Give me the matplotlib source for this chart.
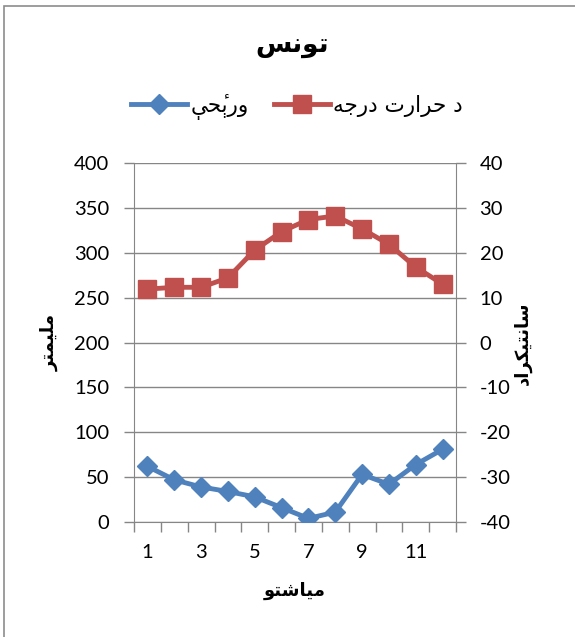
import matplotlib
matplotlib.use('Agg')
import matplotlib.pyplot as plt
from matplotlib import font_manager
from matplotlib.ft2font import FT2Font
from matplotlib.patches import Rectangle

# data
months = list(range(1, 13))
rain_mm = [62, 47, 39, 34, 28, 16, 4, 11, 53, 42, 64, 81]
temp_c = [11.9, 12.3, 12.3, 14.4, 20.6, 24.7, 27.4, 28.2, 25.3, 21.9, 16.8, 13.0]
month_label_pos = [1, 3, 5, 7, 9, 11]
month_labels = ['1', '3', '5', '7', '9', '11']

title_text = 'تونس'
rain_name = 'ورېځې'
temp_name = 'د حرارت درجه'
left_label = 'ملیمتر'
right_label = 'سانتیګراد'
x_label = 'میاشتو'

# matplotlib 3.10 has no arabic shaping, so pick the joined forms by hand
# (isolated, final, initial, medial); two entries = joins only to the right
FORMS = {
    '\u0627': (0xFE8D, 0xFE8E),
    '\u062A': (0xFE95, 0xFE96, 0xFE97, 0xFE98),
    '\u062C': (0xFE9D, 0xFE9E, 0xFE9F, 0xFEA0),
    '\u062D': (0xFEA1, 0xFEA2, 0xFEA3, 0xFEA4),
    '\u062F': (0xFEA9, 0xFEAA),
    '\u0631': (0xFEAD, 0xFEAE),
    '\u0633': (0xFEB1, 0xFEB2, 0xFEB3, 0xFEB4),
    '\u0634': (0xFEB5, 0xFEB6, 0xFEB7, 0xFEB8),
    '\u0644': (0xFEDD, 0xFEDE, 0xFEDF, 0xFEE0),
    '\u0645': (0xFEE1, 0xFEE2, 0xFEE3, 0xFEE4),
    '\u0646': (0xFEE5, 0xFEE6, 0xFEE7, 0xFEE8),
    '\u0647': (0xFEE9, 0xFEEA, 0xFEEB, 0xFEEC),
    '\u0648': (0xFEED, 0xFEEE),
    '\u06CC': (0xFBFC, 0xFBFD, 0xFBFE, 0xFBFF),
    '\u06D0': (0xFBE4, 0xFBE5, 0xFBE6, 0xFBE7),
    '\u0681': (0xFEA1, 0xFEA2, 0xFEA3, 0xFEA4),  # no own forms: hah + hamza
    '\u06AB': (0xFB8E, 0xFB8F, 0xFB90, 0xFB91),  # no own forms: keheh
}
MARKS = {'\u0681': '\u0654'}


def font_path(weight):
    return font_manager.findfont(font_manager.FontProperties(family='DejaVu Sans', weight=weight))


def shape(text, weight='normal'):
    face = FT2Font(font_path(weight))

    def have(cp):
        return face.get_char_index(cp) != 0

    clusters = []
    for i, ch in enumerate(text):
        forms = FORMS.get(ch)
        if forms is None:
            clusters.append(ch)
            continue
        prev = text[i - 1] if i > 0 else ''
        nxt = text[i + 1] if i + 1 < len(text) else ''
        join_prev = prev in FORMS and len(FORMS[prev]) == 4
        join_next = len(forms) == 4 and nxt in FORMS
        if join_prev and join_next:
            k = 3
        elif join_prev:
            k = 1
        elif join_next:
            k = 2
        else:
            k = 0
        glyph = chr(forms[k]) if have(forms[k]) else ch
        mark = MARKS.get(ch, '')
        if mark and not have(ord(mark)):
            mark = ''
        clusters.append(glyph + mark)
    return ''.join(reversed(clusters))


bold = 'bold' if FT2Font(font_path('bold')).get_char_index(0x062A) != 0 else 'normal'

plt.rcParams['font.family'] = ['Lato', 'DejaVu Sans']
plt.rcParams['axes.unicode_minus'] = False

blue = '#4F81BD'
red = '#C0504D'
gray = '#868686'

fig = plt.figure(figsize=(5.75, 6.37), dpi=100)
ax1 = fig.add_axes([134 / 575, 1 - 522 / 637, 322 / 575, 359 / 637])
ax2 = ax1.twinx()

l1, = ax1.plot(months, rain_mm, color=blue, lw=3.5, marker='D', ms=10.5, zorder=3)
l2, = ax2.plot(months, temp_c, color=red, lw=3.5, marker='s', ms=12.5, zorder=3)

ax1.set_xlim(0.5, 12.5)
ax1.set_ylim(0, 400)
ax1.set_yticks(range(0, 401, 50))
ax2.set_ylim(-40, 40)
ax2.set_yticks(range(-40, 41, 10))

ax1.set_xticks([m - 0.5 for m in months] + [months[-1] + 0.5], [''] * 13)
ax1.set_xticks(month_label_pos, month_labels, minor=True)
ax1.tick_params(axis='x', which='major', length=7, width=1, color=gray)
ax1.tick_params(axis='x', which='minor', length=0, pad=16, labelsize=14.5)
ax1.tick_params(axis='y', length=7, width=1, color=gray, pad=11, labelsize=14.5)
ax2.tick_params(axis='y', length=7, width=1, color=gray, pad=10, labelsize=14.5)

ax1.yaxis.grid(True, color=gray, lw=1)
ax1.set_axisbelow(True)
for s in ['top', 'right']:
    ax1.spines[s].set_visible(False)
for s in ['top', 'left', 'bottom']:
    ax2.spines[s].set_visible(False)
ax1.spines['left'].set_color(gray)
ax1.spines['bottom'].set_color(gray)
ax2.spines['right'].set_color(gray)

fig.text(292 / 575, 1 - 46 / 637, shape(title_text, bold), ha='center', va='center',
         fontsize=19, weight=bold, family='DejaVu Sans')
fig.text(50 / 575, 1 - 342 / 637, shape(left_label, bold), ha='center', va='center',
         rotation=90, fontsize=13, weight=bold, family='DejaVu Sans')
fig.text(523 / 575, 1 - 343 / 637, shape(right_label, bold), ha='center', va='center',
         rotation=90, fontsize=13, weight=bold, family='DejaVu Sans')
fig.text(295 / 575, 1 - 591 / 637, shape(x_label, bold), ha='center', va='center',
         fontsize=13, weight=bold, family='DejaVu Sans')

fig.legend([l1, l2], [shape(rain_name), shape(temp_name)],
           loc='center', bbox_to_anchor=(297 / 575, 1 - 107 / 637), ncol=2,
           frameon=False, prop=font_manager.FontProperties(family='DejaVu Sans', size=15.5),
           handlelength=2.6, handletextpad=0.15, columnspacing=1.2)

fig.add_artist(Rectangle((4 / 575, -0.05), 1.1, 1 - 6 / 637 + 0.05, transform=fig.transFigure,
                         fill=False, ec='#8c8c8c', lw=1.2))

fig.savefig('out.png', dpi=100)
